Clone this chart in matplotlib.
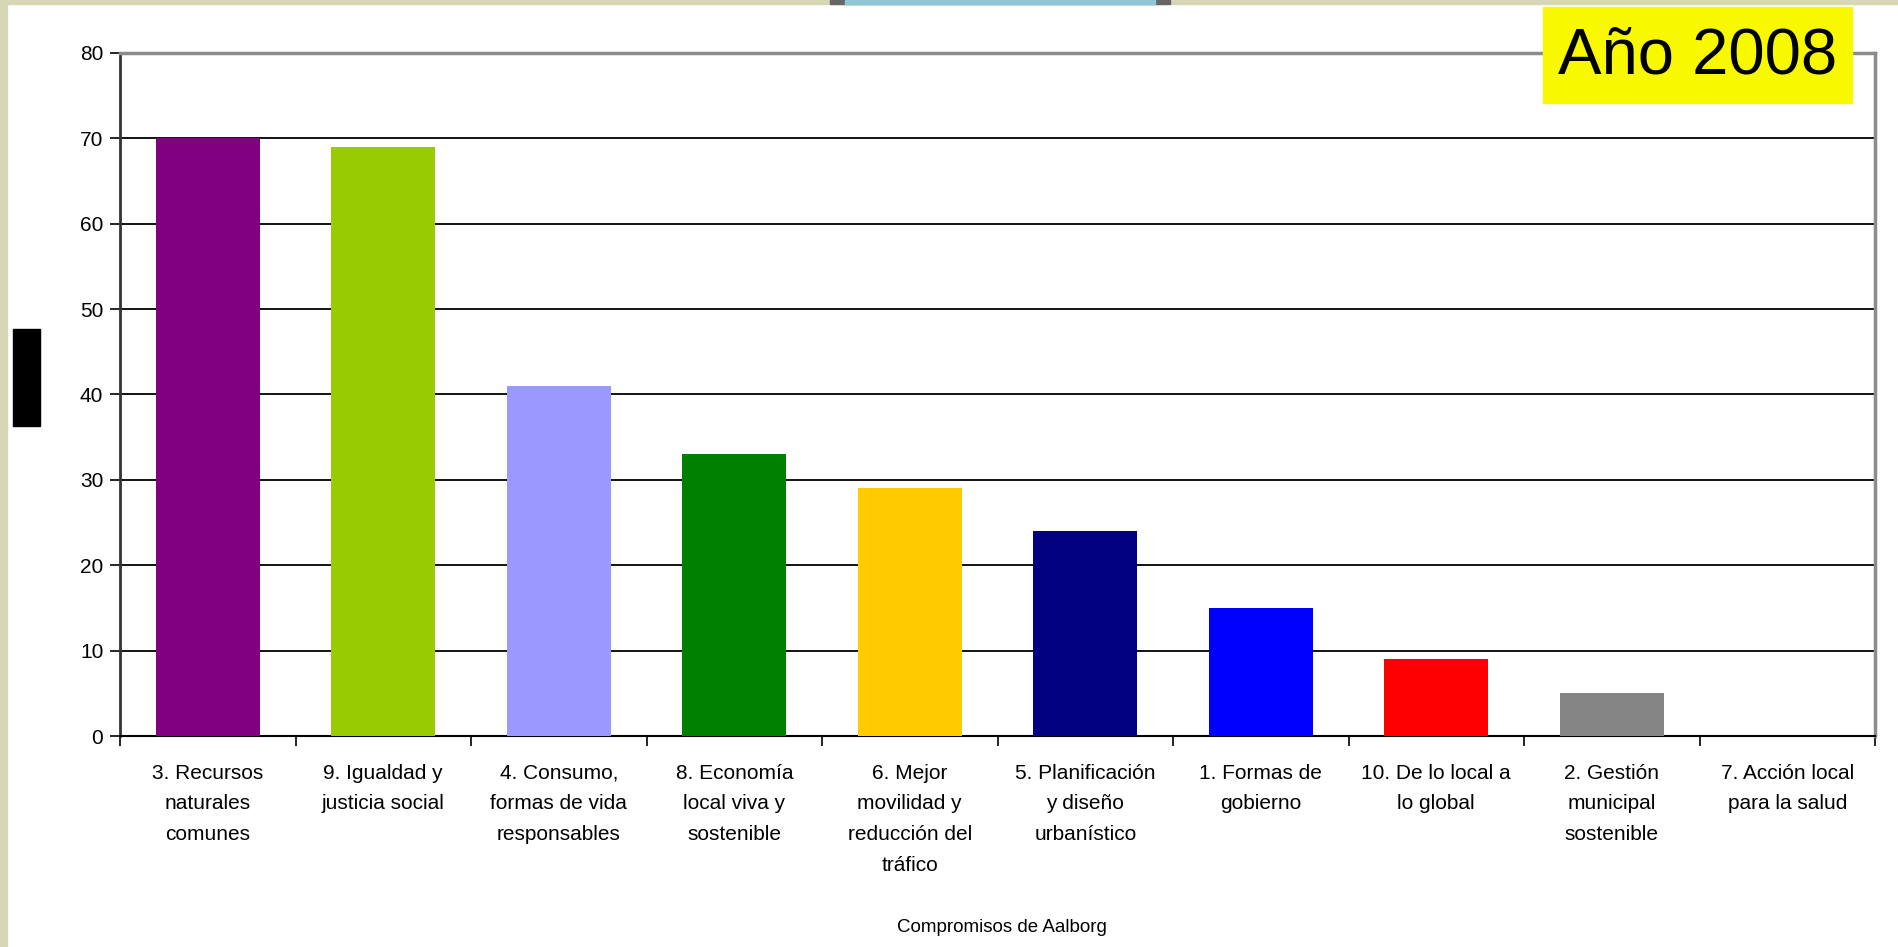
import matplotlib.pyplot as plt
from matplotlib.patches import Rectangle

plt.rcParams['font.family'] = ['Liberation Sans', 'DejaVu Sans']

categorias = ['3. Recursos\nnaturales\ncomunes', '9. Igualdad y\njusticia social',
              '4. Consumo,\nformas de vida\nresponsables', '8. Economía\nlocal viva y\nsostenible',
              '6. Mejor\nmovilidad y\nreducción del\ntráfico', '5. Planificación\ny diseño\nurbanístico',
              '1. Formas de\ngobierno', '10. De lo local a\nlo global', '2. Gestión\nmunicipal\nsostenible',
              '7. Acción local\npara la salud']
valores = [70, 69, 41, 33, 29, 24, 15, 9, 5, 0]
colores = ['#800080', '#99CC00', '#9999FF', '#008000', '#FFCC00',
           '#000080', '#0000FF', '#FF0000', '#848484', '#993366']

W, H = 1898, 947
fig = plt.figure(figsize=(W / 100, H / 100), dpi=100)
fig.patch.set_facecolor('white')

# franjas beige del fondo de la diapositiva
fig.add_artist(Rectangle((0, 0), 7 / W, 1, transform=fig.transFigure, color='#D7D7B5', zorder=0))
fig.add_artist(Rectangle((0, 1 - 4 / H), 1, 4 / H, transform=fig.transFigure, color='#D7D7B5', zorder=0))
fig.add_artist(Rectangle((830 / W, 1 - 4 / H), 340 / W, 4 / H, transform=fig.transFigure, color='#666666', zorder=1))
fig.add_artist(Rectangle((845 / W, 1 - 4 / H), 310 / W, 4 / H, transform=fig.transFigure, color='#8EC6D8', zorder=1))

ax = fig.add_axes([120 / W, 1 - 736 / H, (1875 - 120) / W, (736 - 53) / H])
x = range(len(categorias))
ax.bar(x, valores, width=0.59, color=colores, zorder=3)

ax.set_xlim(-0.5, len(categorias) - 0.5)
ax.set_ylim(0, 80)
ax.set_yticks(range(0, 81, 10))
ax.yaxis.grid(True, color='black', linewidth=1.3, zorder=0)
ax.set_axisbelow(True)

ax.set_xticks(list(x))
ax.set_xticklabels(categorias, fontsize=15, linespacing=1.78, va='top')
ax.set_xticks([i - 0.5 for i in range(len(categorias) + 1)], minor=True)
ax.tick_params(axis='x', which='major', length=0, pad=20)
ax.tick_params(axis='x', which='minor', length=7, width=1.2, color='black', direction='out')
ax.tick_params(axis='y', length=7, width=1.2, direction='out', labelsize=15, pad=5)

for lado in ['top', 'right']:
    ax.spines[lado].set_color('#8C8C8C')
    ax.spines[lado].set_linewidth(2.5)
ax.spines['left'].set_color('#333333')
ax.spines['left'].set_linewidth(2)
ax.spines['bottom'].set_color('black')
ax.spines['bottom'].set_linewidth(1.5)

fig.text(1002 / W, 1 - 927 / H, 'Compromisos de Aalborg', fontsize=13.5, ha='center', va='center')

# etiqueta del eje y tapada
fig.add_artist(Rectangle((13 / W, 1 - 426 / H), 27 / W, 97 / H, transform=fig.transFigure, color='black', zorder=5))

# recuadro amarillo
fig.add_artist(Rectangle((1543 / W, 1 - 103 / H), 309 / W, 96 / H, transform=fig.transFigure,
                         color='#F8F800', zorder=5))
fig.text(1698 / W, 1 - 56 / H, 'Año 2008', fontsize=47, ha='center', va='center', zorder=6)

fig.savefig('out.png', dpi=100)
